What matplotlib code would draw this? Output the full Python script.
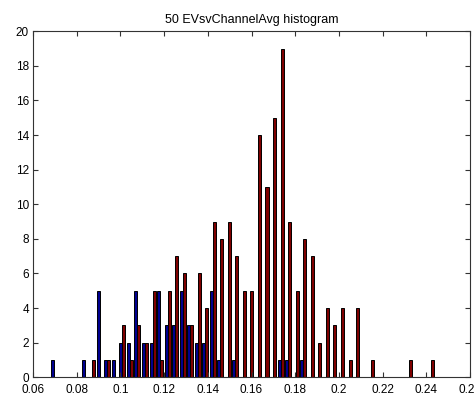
import numpy as np
import matplotlib
matplotlib.use("Agg")
import matplotlib.pyplot as plt

plt.rcParams['font.family'] = ['Liberation Sans', 'DejaVu Sans']

# bin centres of the histogram (51 bins)
bin_centers = [0.0698, 0.0733, 0.0767, 0.0802, 0.0836, 0.0871, 0.0905, 0.0940,
               0.0974, 0.1009, 0.1043, 0.1078, 0.1112, 0.1147, 0.1181, 0.1216,
               0.1250, 0.1285, 0.1319, 0.1354, 0.1388, 0.1423, 0.1457, 0.1492,
               0.1526, 0.1561, 0.1595, 0.1630, 0.1664, 0.1699, 0.1733, 0.1768,
               0.1802, 0.1837, 0.1871, 0.1906, 0.1940, 0.1975, 0.2009, 0.2044,
               0.2078, 0.2113, 0.2147, 0.2182, 0.2216, 0.2251, 0.2285, 0.2320,
               0.2354, 0.2389, 0.2423]

# counts, first series (blue)
counts_blue = [1, 0, 0, 0, 1, 0, 5, 1, 1, 2, 2, 5, 2, 2, 5, 3, 3, 5, 3, 2,
               2, 5, 1, 0, 1, 0, 0, 0, 0, 0, 1, 1, 0, 1, 0, 0, 0, 0, 0, 0,
               0, 0, 0, 0, 0, 0, 0, 0, 0, 0, 0]

# counts, second series (dark red)
counts_red = [0, 0, 0, 0, 0, 1, 0, 1, 0, 3, 1, 3, 2, 5, 1, 5, 7, 6, 3, 6,
              4, 9, 8, 9, 7, 5, 5, 14, 11, 15, 19, 9, 5, 8, 7, 2, 4, 3, 4, 1,
              4, 0, 1, 0, 0, 0, 0, 1, 0, 0, 1]

xticks = [0.06, 0.08, 0.1, 0.12, 0.14, 0.16, 0.18, 0.2, 0.22, 0.24, 0.26]
xtick_labels = ['0.06', '0.08', '0.1', '0.12', '0.14', '0.16', '0.18',
                '0.2', '0.22', '0.24', '0.26']
yticks = [0, 2, 4, 6, 8, 10, 12, 14, 16, 18, 20]

fig = plt.figure(figsize=(4.74, 4.01), dpi=100)
ax = fig.add_axes([0.0696, 0.0591, 0.922, 0.863])

x = np.array(bin_centers)
w = 0.00345 * 0.4

# grouped bars: blue on the left of the centre, red on the right
ax.bar(x, counts_blue, width=w, align='edge', color='#00008f',
       edgecolor='black', linewidth=0.7)
ax.bar(x, counts_red, width=w, align='edge', color='#7f0000',
       edgecolor='black', linewidth=0.7)
# blue bars drawn from the left edge
for p in ax.patches[:len(x)]:
    p.set_x(p.get_x() - w)

ax.set_xlim(0.06, 0.26)
ax.set_ylim(0, 20)
ax.set_xticks(xticks)
ax.set_xticklabels(xtick_labels)
ax.set_yticks(yticks)

ax.tick_params(direction='in', length=3.5, width=0.8, top=True, right=True,
               labelsize=8.5, pad=3, colors='#333333', labelcolor='black')
ax.tick_params(axis='x', pad=5)
for s in ax.spines.values():
    s.set_color('#333333')
    s.set_linewidth(0.8)

ax.set_title('50 EVsvChannelAvg histogram', fontsize=9, pad=6)

plt.savefig('out.png', dpi=100)
